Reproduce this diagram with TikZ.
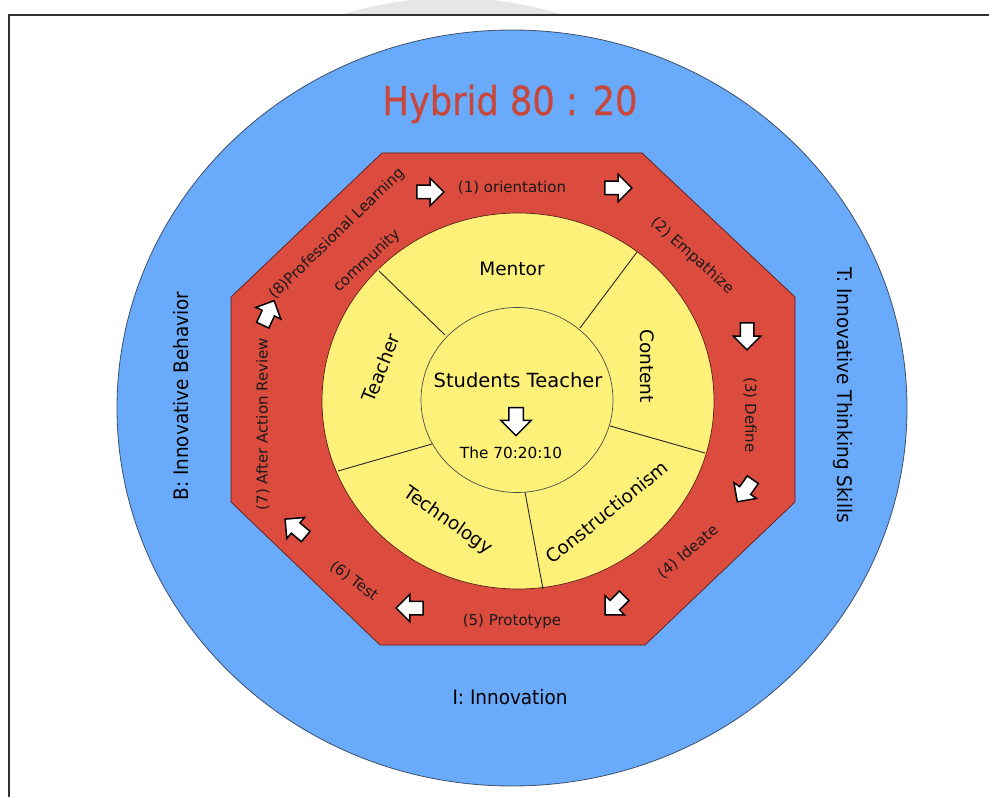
\documentclass[tikz,border=0pt]{standalone}
\usepackage{fontspec}
\setmainfont{DejaVu Sans}
\newfontfamily\titlefont[FakeStretch=0.88, FakeBold=0.6]{DejaVu Sans}
\newfontfamily\outerfont[FakeStretch=0.92]{DejaVu Sans}
\usetikzlibrary{shapes.arrows}
\definecolor{bluefill}{RGB}{106,170,250}
\definecolor{blueline}{RGB}{60,80,110}
\definecolor{redfill}{RGB}{220,76,62}
\definecolor{redline}{RGB}{90,30,25}
\definecolor{yellowfill}{RGB}{253,241,122}
\definecolor{titlered}{RGB}{200,70,58}
\definecolor{wmark}{RGB}{230,230,230}
\tikzset{
  blockarrow/.style={single arrow, draw=black, fill=white, line width=1.5pt,
    minimum height=27pt, inner sep=6pt, single arrow head extend=7pt,
    single arrow head indent=0pt, rotate=#1},
  octlabel/.style={font=\fontsize{15}{15}\selectfont, text=black!90, inner sep=0pt},
  seclabel/.style={font=\fontsize{18.5}{18.5}\selectfont, text=black, inner sep=0pt},
  outlabel/.style={font=\outerfont\fontsize{20}{20}\selectfont, text=black, inner sep=0pt},
  spoke/.style={draw=black!85, line width=0.9pt},
}
\begin{document}
\begin{tikzpicture}[x=1pt,y=-1pt]
\useasboundingbox (0,0) rectangle (989,797);
% faint watermark above frame
\begin{scope}
  \clip (0,0) rectangle (989,15);
  \fill[wmark] (452,370) circle [radius=372pt];
\end{scope}
% frame
\draw[line width=1.3pt, black!80] (9,797) -- (9,15) -- (989,15);
% blue circle
\filldraw[fill=bluefill, draw=blueline, line width=0.8pt] (512,408) ellipse [x radius=395pt, y radius=378pt];
% red octagon
\filldraw[fill=redfill, draw=redline, line width=0.7pt]
  (382,153) -- (642,153) -- (795,297) -- (795,502) -- (645,645) -- (380,645) -- (231,502) -- (231,297) -- cycle;
% yellow circle
\filldraw[fill=yellowfill, draw=redline, line width=0.7pt] (518,401) ellipse [x radius=196pt, y radius=188pt];
% spokes
\coordinate (s1o) at (379,271); \coordinate (s1i) at (445,335);
\coordinate (s2o) at (637,252); \coordinate (s2i) at (580,328);
\coordinate (s3o) at (705,453); \coordinate (s3i) at (610,426);
\coordinate (s4o) at (543,589); \coordinate (s4i) at (525,492);
\coordinate (s5o) at (338,471); \coordinate (s5i) at (432,444);
\draw[spoke] (s1o) -- (s1i);
\draw[spoke] (s2o) -- (s2i);
\draw[spoke] (s3o) -- (s3i);
\draw[spoke] (s4o) -- (s4i);
\draw[spoke] (s5o) -- (s5i);
% inner circle
\filldraw[fill=yellowfill, draw=black!70, line width=0.7pt] (517,400) ellipse [x radius=96pt, y radius=92.5pt];

% title and outer labels
\node[font=\titlefont\fontsize{40}{40}\selectfont, text=titlered, inner sep=0pt] (title) at (510,104) {Hybrid 80 : 20};
\node[outlabel, rotate=90] (B) at (181,396) {B: Innovative Behavior};
\node[outlabel, rotate=-90] (T) at (843,395) {T: Innovative Thinking Skills};
\node[outlabel] (I) at (510,697) {I: Innovation};

% octagon labels
\node[octlabel] (o1) at (512,188) {(1) orientation};
\node[octlabel, rotate=-42] (o2) at (692,256) {(2) Empathize};
\node[octlabel, rotate=-90] (o3) at (750,415) {(3) Define};
\node[octlabel, rotate=40] (o4) at (688,552) {(4) Ideate};
\node[octlabel] (o5) at (512,621) {(5) Prototype};
\node[octlabel, rotate=-37] (o6) at (354,581) {(6) Test};
\node[octlabel, rotate=90] (o7) at (263,424) {(7) After Action Review};
\node[octlabel, rotate=44] (o8) at (337,234) {(8)Professional Learning};
\node[octlabel, rotate=43] (o8b) at (367,261) {community};

% octagon arrows
\node[blockarrow=0] (a1) at (427,192) {};
\node[blockarrow=0] (a2) at (615,188) {};
\node[blockarrow=-90] (a3) at (747,333) {};
\node[blockarrow=-125] (a4) at (747,488) {};
\node[blockarrow=-135] (a5) at (617,603) {};
\node[blockarrow=180] (a6) at (413,608) {};
\node[blockarrow=140] (a7) at (298,530) {};
\node[blockarrow=65] (a8) at (267,316) {};

% sector labels
\node[seclabel] (mentor) at (512,269) {Mentor};
\node[seclabel, rotate=-90] (content) at (647,366) {Content};
\node[seclabel, rotate=39] (constr) at (607,512) {Constructionism};
\node[seclabel, rotate=-35] (tech) at (448,521) {Technology};
\node[seclabel, rotate=68] (teacher) at (381,368) {Teacher};

% center
\node[font=\fontsize{19.5}{19.5}\selectfont, inner sep=0pt] (st) at (518,380) {Students Teacher};
\node[blockarrow=-90, minimum height=28pt, inner sep=6.5pt, single arrow head extend=8pt] (ac) at (516,418) {};
\node[font=\fontsize{15.3}{15.3}\selectfont, inner sep=0pt] (ratio) at (511,453) {The 70:20:10};
\end{tikzpicture}
\end{document}
